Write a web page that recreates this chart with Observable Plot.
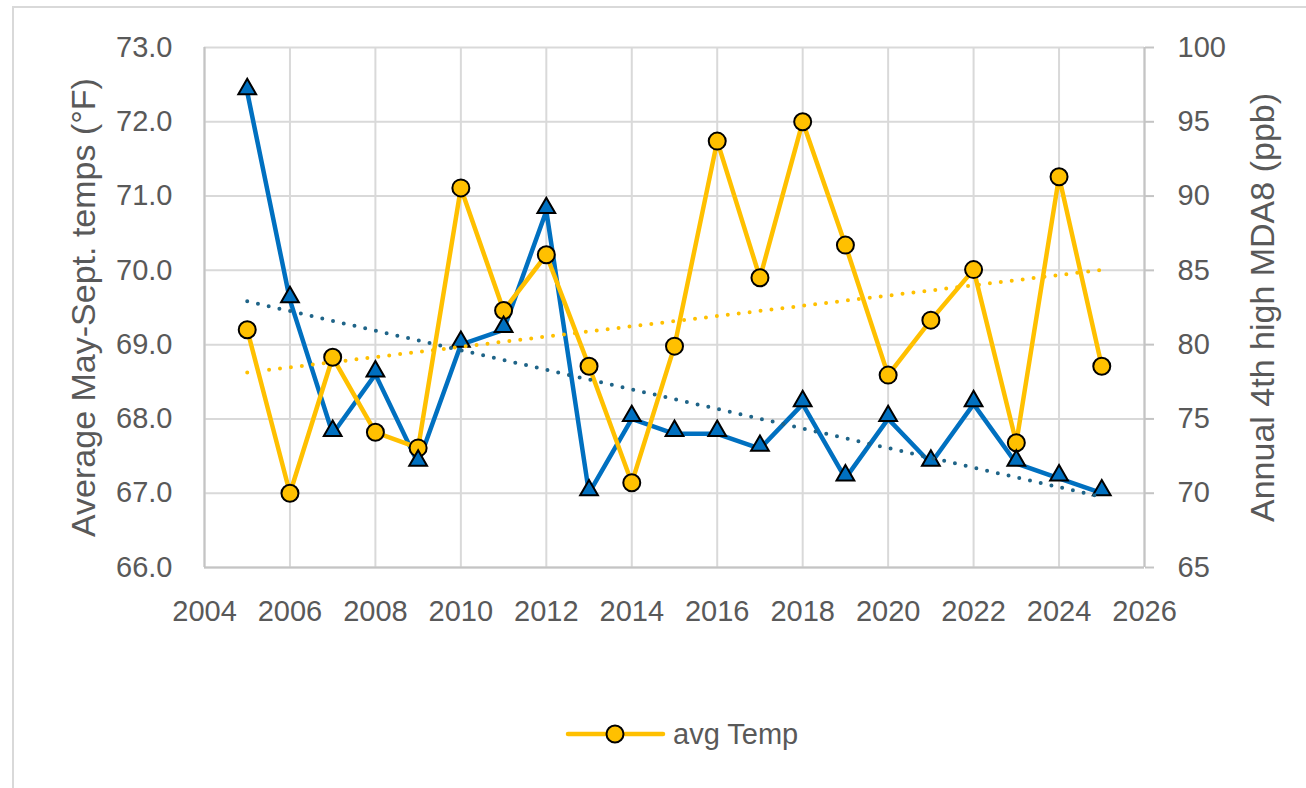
<!DOCTYPE html>
<html>
<head>
<meta charset="utf-8">
<script src="https://cdn.jsdelivr.net/npm/d3@7"></script>
<script src="https://cdn.jsdelivr.net/npm/@observablehq/plot@0.6"></script>
<style>
  html, body { margin: 0; padding: 0; background: #ffffff; }
  #wrap { position: relative; width: 1306px; height: 788px; overflow: hidden; font-family: "Liberation Sans", Arial, sans-serif; }
  #border { position: absolute; left: 12px; top: 6px; width: 1400px; height: 900px; border-left: 2px solid #d9d9d9; border-top: 2px solid #d9d9d9; }
  #chart { position: absolute; left: 0; top: 0; }
  #legend { position: absolute; left: 560px; top: 709px; }
</style>
</head>
<body>
<div id="wrap">
  <div id="border"></div>
  <div id="chart"></div>
  <div id="legend"></div>
</div>
<script>
// ---- data ----
const years = [2005, 2006, 2007, 2008, 2009, 2010, 2011, 2012, 2013, 2014, 2015,
               2016, 2017, 2018, 2019, 2020, 2021, 2022, 2023, 2024, 2025];
const avgTemp = [69.20, 67.00, 68.83, 67.82, 67.61, 71.11, 69.46, 70.21, 68.71, 67.14, 68.98,
                 71.74, 69.90, 72.00, 70.34, 68.59, 69.33, 70.01, 67.68, 71.26, 68.71];
const mda8 = [97, 83, 74, 78, 72, 80, 81, 89, 70, 75, 74,
              74, 73, 76, 71, 75, 72, 76, 72, 71, 70];
const xTicks = [2004, 2006, 2008, 2010, 2012, 2014, 2016, 2018, 2020, 2022, 2024, 2026];
const tempTicks = [66, 67, 68, 69, 70, 71, 72, 73];
const ppbTicks = [65, 70, 75, 80, 85, 90, 95, 100];
const leftTitle = "Average May-Sept. temps (°F)";
const rightTitle = "Annual 4th high MDA8 (ppb)";
const legendLabel = "avg Temp";

// secondary (ppb) axis mapped onto the primary temperature scale
const toLeft = p => 66 + (p - 65) * (73 - 66) / (100 - 65);
const fromLeft = t => 65 + (t - 66) * (100 - 65) / (73 - 66);

const temp = years.map((year, i) => ({year, value: avgTemp[i]}));
const ozone = years.map((year, i) => ({year, value: toLeft(mda8[i])}));

const YELLOW = "#FFC000", BLUE = "#0070C0", TEAL = "#1F6488";
const GRID = "#d9d9d9", TEXT = "#595959";

const chart = Plot.plot({
  width: 1306,
  height: 788,
  marginLeft: 204,
  marginRight: 162,
  marginTop: 47,
  marginBottom: 221,
  style: {fontFamily: "'Liberation Sans', Arial, sans-serif", fontSize: "29px", color: TEXT, background: "transparent", overflow: "visible"},
  x: {domain: [2004, 2026]},
  y: {domain: [66, 73]},
  marks: [
    Plot.gridX(xTicks, {stroke: GRID, strokeOpacity: 1, strokeWidth: 2}),
    Plot.gridY(tempTicks, {stroke: GRID, strokeOpacity: 1, strokeWidth: 2}),
    Plot.ruleY([66], {stroke: "#c4c4c4", strokeWidth: 2}),
    Plot.ruleX([2004, 2026], {stroke: "#c4c4c4", strokeWidth: 2}),
    Plot.axisX(xTicks, {tickSize: 0, tickPadding: 33, tickFormat: d => String(d), fill: TEXT, fontSize: 29, label: null}),
    Plot.axisY(tempTicks, {anchor: "left", tickSize: 0, tickPadding: 32, tickFormat: d => d.toFixed(1), fill: TEXT, fontSize: 29, label: null}),
    Plot.axisY(ppbTicks.map(toLeft), {anchor: "right", tickSize: 9, tickPadding: 24, stroke: "#c4c4c4", strokeWidth: 2, fill: TEXT, fontSize: 29,
      tickFormat: d => String(Math.round(fromLeft(d))), label: null}),
    Plot.text([leftTitle], {frameAnchor: "left", textAnchor: "middle", rotate: -90, lineAnchor: "top", dx: -134, fontSize: 34, fill: TEXT}),
    Plot.text([rightTitle], {frameAnchor: "right", textAnchor: "middle", rotate: -90, lineAnchor: "bottom", dx: 129, fontSize: 34, fill: TEXT}),
    Plot.line(ozone, {x: "year", y: "value", stroke: BLUE, strokeWidth: 4.5, strokeLinejoin: "round"}),
    Plot.line(temp, {x: "year", y: "value", stroke: YELLOW, strokeWidth: 4.5, strokeLinejoin: "round"}),
    Plot.dot(temp, {x: "year", y: "value", r: 8.5, fill: YELLOW, stroke: "#000", strokeWidth: 2}),
    Plot.dot(ozone, {x: "year", y: "value", symbol: "triangle", r: 6.6, dy: -3, fill: BLUE, stroke: "#000", strokeWidth: 2}),
    Plot.linearRegressionY(temp, {x: "year", y: "value", ci: 0, stroke: YELLOW, strokeWidth: 4, strokeDasharray: "0 11", strokeLinecap: "round"}),
    Plot.linearRegressionY(ozone, {x: "year", y: "value", ci: 0, stroke: TEAL, strokeWidth: 4, strokeDasharray: "0 11", strokeLinecap: "round"})
  ]
});
document.getElementById("chart").appendChild(chart);

// legend (only the temperature series is listed in the reference)
const lg = d3.select("#legend").append("svg").attr("width", 300).attr("height", 50);
lg.append("line").attr("x1", 8).attr("x2", 103).attr("y1", 25).attr("y2", 25)
  .attr("stroke", YELLOW).attr("stroke-width", 4.5).attr("stroke-linecap", "round");
lg.append("circle").attr("cx", 55).attr("cy", 25).attr("r", 8.5)
  .attr("fill", YELLOW).attr("stroke", "#000").attr("stroke-width", 2);
lg.append("text").attr("x", 113).attr("y", 25).attr("dy", "0.35em")
  .attr("font-family", "'Liberation Sans', Arial, sans-serif").attr("font-size", 29)
  .attr("fill", TEXT).text(legendLabel);
</script>
</body>
</html>
